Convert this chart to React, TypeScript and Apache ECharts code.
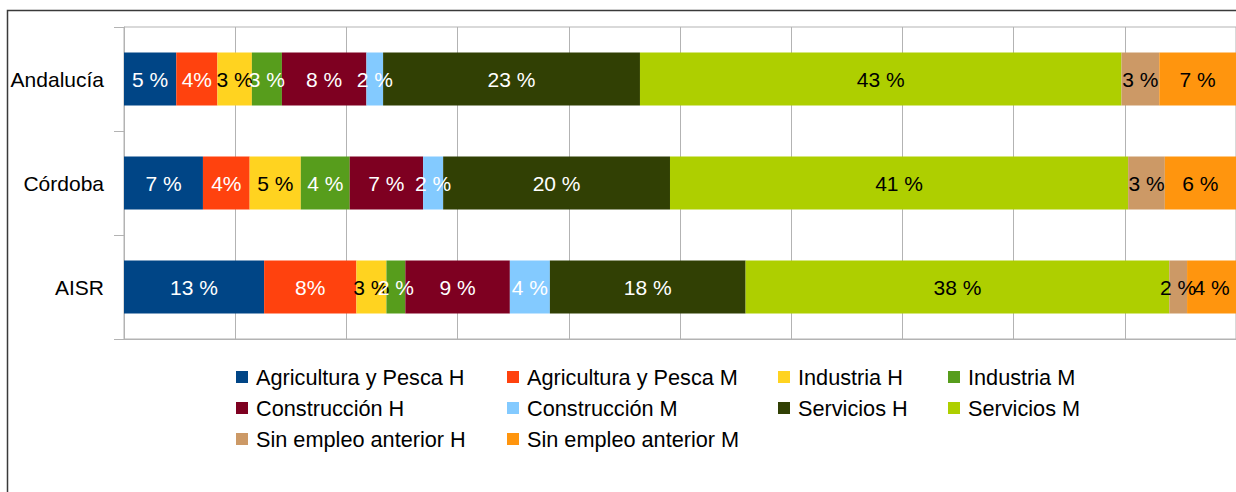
import React, { useEffect, useRef } from "react";
import * as echarts from "echarts";

const categories = ["Andalucía", "Córdoba", "AISR"];
const seriesNames = [
  "Agricultura y Pesca H",
  "Agricultura y Pesca M",
  "Industria H",
  "Industria M",
  "Construcción H",
  "Construcción M",
  "Servicios H",
  "Servicios M",
  "Sin empleo anterior H",
  "Sin empleo anterior M",
];
// percentages per category (Andalucía, Córdoba, AISR)
const agriH = [4.7, 7.1, 12.6];
const agriM = [3.7, 4.2, 8.3];
const indH = [3.1, 4.6, 2.7];
const indM = [2.7, 4.4, 1.7];
const consH = [7.6, 6.6, 9.4];
const consM = [1.5, 1.8, 3.6];
const servH = [23.1, 20.4, 17.6];
const servM = [43.3, 41.2, 38.1];
const sinH = [3.4, 3.3, 1.6];
const sinM = [6.9, 6.4, 4.4];
const seriesValues = [agriH, agriM, indH, indM, consH, consM, servH, servM, sinH, sinM];

const colors = [
  "#004586",
  "#ff420e",
  "#ffd320",
  "#579d1c",
  "#7e0021",
  "#83caff",
  "#314004",
  "#aecf00",
  "#cc9966",
  "#ff950e",
];
const labelColors = ["#fff", "#fff", "#000", "#fff", "#fff", "#fff", "#fff", "#000", "#000", "#000"];
const labelSeparators = [" ", "", " ", " ", " ", " ", " ", " ", " ", " "];

const legendColumns = [
  { left: 236, names: [seriesNames[0], seriesNames[4], seriesNames[8]] },
  { left: 507, names: [seriesNames[1], seriesNames[5], seriesNames[9]] },
  { left: 778, names: [seriesNames[2], seriesNames[6]] },
  { left: 948, names: [seriesNames[3], seriesNames[7]] },
];

const FONT = "'Liberation Sans', Arial, sans-serif";

export default function App() {
  const ref = useRef<HTMLDivElement>(null);
  useEffect(() => {
    if (!ref.current) return;
    const chart = echarts.init(ref.current, null, { renderer: "svg" });
    chart.setOption({
      animation: false,
      color: colors,
      textStyle: { fontFamily: FONT },
      graphic: [
        {
          type: "rect",
          shape: { x: 7.5, y: 10.5, width: 1400, height: 700 },
          style: { fill: "none", stroke: "#3a3a3a", lineWidth: 1.5 },
          z: -1,
        },
      ],
      legend: legendColumns.map((c) => ({
        orient: "vertical",
        left: c.left,
        top: 366,
        padding: 0,
        itemWidth: 12,
        itemHeight: 12,
        itemGap: 9,
        icon: "rect",
        data: c.names,
        textStyle: { fontSize: 21.7, color: "#000", fontFamily: FONT, padding: [0, 0, 0, 3] },
      })),
      grid: {
        left: 124,
        top: 27,
        width: 1113,
        height: 312,
        show: true,
        borderColor: "#b3b3b3",
        borderWidth: 1,
      },
      xAxis: {
        type: "value",
        min: 0,
        max: 100,
        interval: 10,
        axisLabel: { show: false },
        axisTick: { show: false },
        axisLine: { show: true, lineStyle: { color: "#b3b3b3" } },
        splitLine: { show: true, lineStyle: { color: "#b3b3b3", width: 1 } },
      },
      yAxis: {
        type: "category",
        inverse: true,
        data: categories,
        axisLine: { show: true, lineStyle: { color: "#b3b3b3" } },
        axisTick: { show: true, length: 10, lineStyle: { color: "#b3b3b3" } },
        axisLabel: { color: "#000", fontSize: 21, margin: 20, fontFamily: FONT },
      },
      series: seriesNames.map((name, i) => ({
        name,
        type: "bar",
        stack: "total",
        barWidth: 53,
        data: seriesValues[i],
        itemStyle: { color: colors[i] },
        label: {
          show: true,
          position: "inside",
          color: labelColors[i],
          fontSize: 21,
          fontFamily: FONT,
          textBorderWidth: 0,
          formatter: (p: any) => Math.round(p.value) + labelSeparators[i] + "%",
        },
      })),
    });
    return () => chart.dispose();
  }, []);
  return (
    <div
      ref={ref}
      style={{ position: "absolute", left: 0, top: 0, width: 1236, height: 492, background: "#fff" }}
    />
  );
}
